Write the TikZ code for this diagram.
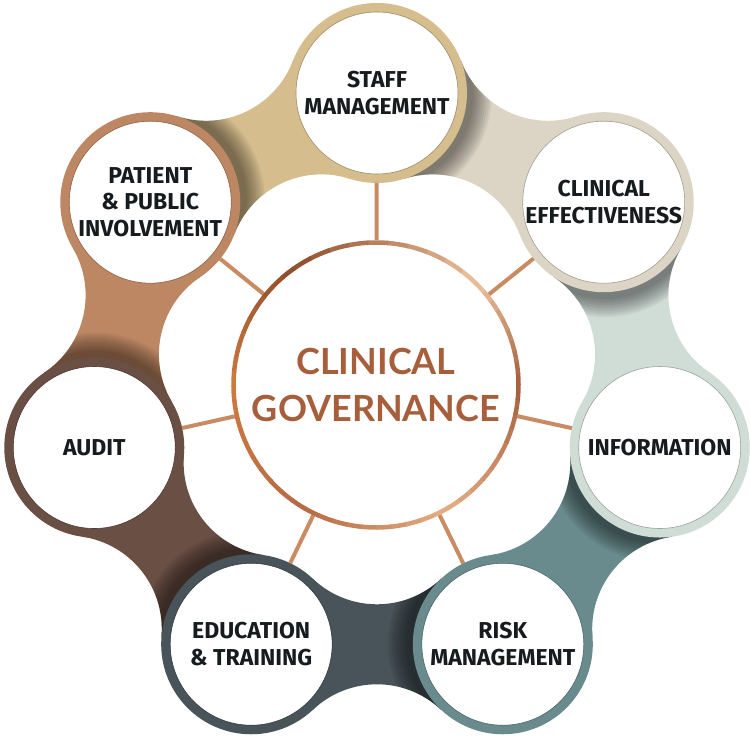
\documentclass[tikz,border=0pt]{standalone}
\usepackage{fontspec}
\setmainfont{Fira Sans}
\newfontfamily\cgfont{Lato}
\usetikzlibrary{calc}
\definecolor{c0}{HTML}{D5BD8D}
\definecolor{c1}{HTML}{DCD4C4}
\definecolor{c2}{HTML}{D0DCD6}
\definecolor{c3}{HTML}{6A8B8D}
\definecolor{c4}{HTML}{485459}
\definecolor{c5}{HTML}{6A4F45}
\definecolor{c6}{HTML}{BE8764}
\definecolor{txt}{HTML}{161B1E}
\definecolor{cgtext}{HTML}{A65F3A}
\definecolor{spokec}{HTML}{C98B62}
\definecolor{cuA}{HTML}{A35E3C}
\definecolor{cuB}{HTML}{EDC29C}
\definecolor{cuC}{HTML}{8E4C2C}
\definecolor{cuE}{HTML}{CF7A40}
\definecolor{cuF}{HTML}{B66A42}
\definecolor{cuG}{HTML}{E6AE86}
\tikzset{
  outerc/.style={circle, minimum size=171pt, inner sep=0pt, line width=9pt, fill=white,
    align=center, font=\bfseries\fontsize{23}{26.5}\selectfont, text=txt},
  centerc/.style={circle, minimum size=289.5pt, inner sep=0pt, outer sep=0pt, align=center,
    font=\cgfont\bfseries\fontsize{36}{47}\selectfont, text=cgtext},
  spoke/.style={line width=4pt, draw=spokec},
}
\newcommand{\neckshape}{(-64.02pt,65.44pt) arc[start angle=226.65, end angle=313.35, radius=93.26pt] -- (64.02pt,-65.44pt) arc[start angle=46.65, end angle=133.35, radius=93.26pt] -- cycle}
\begin{document}
\begin{tikzpicture}[x=1pt,y=1pt]
\useasboundingbox (0,0) rectangle (750,736);
\coordinate (rc) at (377,353);
% necks between neighbouring circles
\foreach \k/\n in {0/1,1/2,2/3,3/4,4/5,5/6,6/0} {
  \pgfmathsetmacro\ph{90-51.428571*\k-25.714286}
  \begin{scope}[shift={($(rc)+(\ph:261.3)$)}, rotate=\ph-90]
    \fill[fill=c\n] \neckshape;
    \begin{scope}
      \clip \neckshape;
      \foreach \j in {1,...,10} {
        \pgfmathsetmacro\rr{90+2*\j}
        \fill[black, opacity=0.05] (-120.8pt,0pt) circle[radius=\rr pt];
      }
    \end{scope}
  \end{scope}
}
% outer circles
\foreach \k/\lab in {0/{STAFF\\MANAGEMENT}, 1/{CLINICAL\\EFFECTIVENESS}, 2/{INFORMATION},
  3/{RISK\\MANAGEMENT}, 4/{EDUCATION\\\& TRAINING}, 5/{AUDIT}, 6/{PATIENT\\\& PUBLIC\\INVOLVEMENT}} {
  \node[outerc, draw=c\k] (o\k) at ($(rc)+({90-51.428571*\k}:290)$) {\lab};
  \draw[c\k!75!black, line width=0.6pt] (o\k.center) circle[radius=81pt];
}
% central circle
\node[centerc] (cg) at (376,351) {CLINICAL\\GOVERNANCE};
\foreach \k in {0,...,6} {
  \draw[spoke] (cg) -- (o\k);
}
\foreach \s/\e/\ca/\cb in {0/45/cuA/cuB, 45/125/cuB/cuC, 125/180/cuC/cuE, 180/240/cuE/cuF, 240/300/cuF/cuG, 300/360/cuG/cuA} {
  \foreach \t in {0,...,9} {
    \pgfmathsetmacro\aa{\s+(\e-\s)*\t/10}
    \pgfmathsetmacro\bb{\s+(\e-\s)*(\t+1)/10+0.6}
    \pgfmathtruncatemacro\pp{95-\t*10}
    \draw[line width=4.5pt, draw=\ca!\pp!\cb] ($(cg.center)+(\aa:142.5)$) arc[start angle=\aa, end angle=\bb, radius=142.5pt];
  }
}
\end{tikzpicture}
\end{document}
